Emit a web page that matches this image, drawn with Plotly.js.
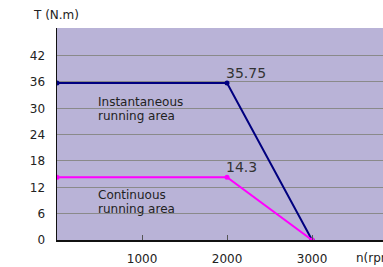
<!DOCTYPE html>
<html>
<head>
<meta charset="utf-8">
<script src="https://cdn.plot.ly/plotly-3.0.1.min.js"></script>
<style>html,body{margin:0;padding:0;background:#fff;}#chart{width:383px;height:267px;}</style>
</head>
<body>
<div id="chart"></div>
<script>
const speed = [0, 2000, 3000];
const instantTorque = [35.75, 35.75, 0];
const continuousTorque = [14.3, 14.3, 0];
const xTicks = [1000, 2000, 3000];
const yTicks = [0, 6, 12, 18, 24, 30, 36, 42];

const font = "DejaVu Sans, Verdana, sans-serif";
const traces = [
  {x: speed, y: instantTorque, mode: 'lines+markers', line: {color: '#00007f', width: 2}, marker: {color: '#00007f', size: 5}, hoverinfo: 'skip'},
  {x: speed, y: continuousTorque, mode: 'lines+markers', line: {color: '#ff00ff', width: 2}, marker: {color: '#ff00ff', size: 5}, hoverinfo: 'skip'}
];
const lbl = (x, y, t) => ({x: x, y: y, xanchor: 'left', yanchor: 'middle', showarrow: false, borderpad: 0, text: t, font: {family: font, size: 12, color: '#222'}});
const layout = {
  width: 383, height: 267,
  margin: {l: 57, r: 0, t: 28, b: 27},
  paper_bgcolor: '#ffffff',
  plot_bgcolor: '#b9b3d7',
  showlegend: false,
  font: {family: font, size: 12, color: '#222'},
  xaxis: {range: [0, 3835], tickvals: xTicks, ticktext: xTicks.map(String), showgrid: false, zeroline: false,
    showline: true, linecolor: '#111', linewidth: 1.5, ticks: 'inside', ticklen: 5, tickcolor: '#555', tickwidth: 1,
    tickfont: {family: font, size: 12, color: '#222'}, ticklabelstandoff: 7, fixedrange: true},
  yaxis: {range: [0, 48.3], tickvals: yTicks, ticktext: yTicks.map(String), showgrid: true, gridcolor: '#8a8a8a', gridwidth: 1,
    zeroline: false, showline: true, linecolor: '#111', linewidth: 1.5, ticks: '', ticklabelstandoff: 8,
    tickfont: {family: font, size: 12, color: '#222'}, fixedrange: true},
  annotations: [
    {xref: 'paper', yref: 'paper', x: -0.08, y: 1.0 + 13/212, xanchor: 'left', yanchor: 'middle', showarrow: false, text: 'T (N.m)', font: {family: font, size: 12, color: '#222'}},
    {xref: 'paper', yref: 'paper', x: 0.912, y: -18/212, xanchor: 'left', yanchor: 'middle', showarrow: false, text: 'n(rpm)', font: {family: font, size: 12, color: '#222'}},
    {x: speed[1], y: 38.1, xanchor: 'left', yanchor: 'middle', xshift: -3, showarrow: false, text: String(instantTorque[1]), font: {family: font, size: 14, color: '#333'}},
    {x: speed[1], y: 16.7, xanchor: 'left', yanchor: 'middle', xshift: -3, showarrow: false, text: String(continuousTorque[1]), font: {family: font, size: 14, color: '#333'}},
    lbl(470, 31.45, 'Instantaneous'),
    lbl(470, 28.25, 'running area'),
    lbl(470, 10.3, 'Continuous'),
    lbl(470, 7.1, 'running area')
  ]
};
Plotly.newPlot('chart', traces, layout, {displayModeBar: false, staticPlot: true});
</script>
</body>
</html>
